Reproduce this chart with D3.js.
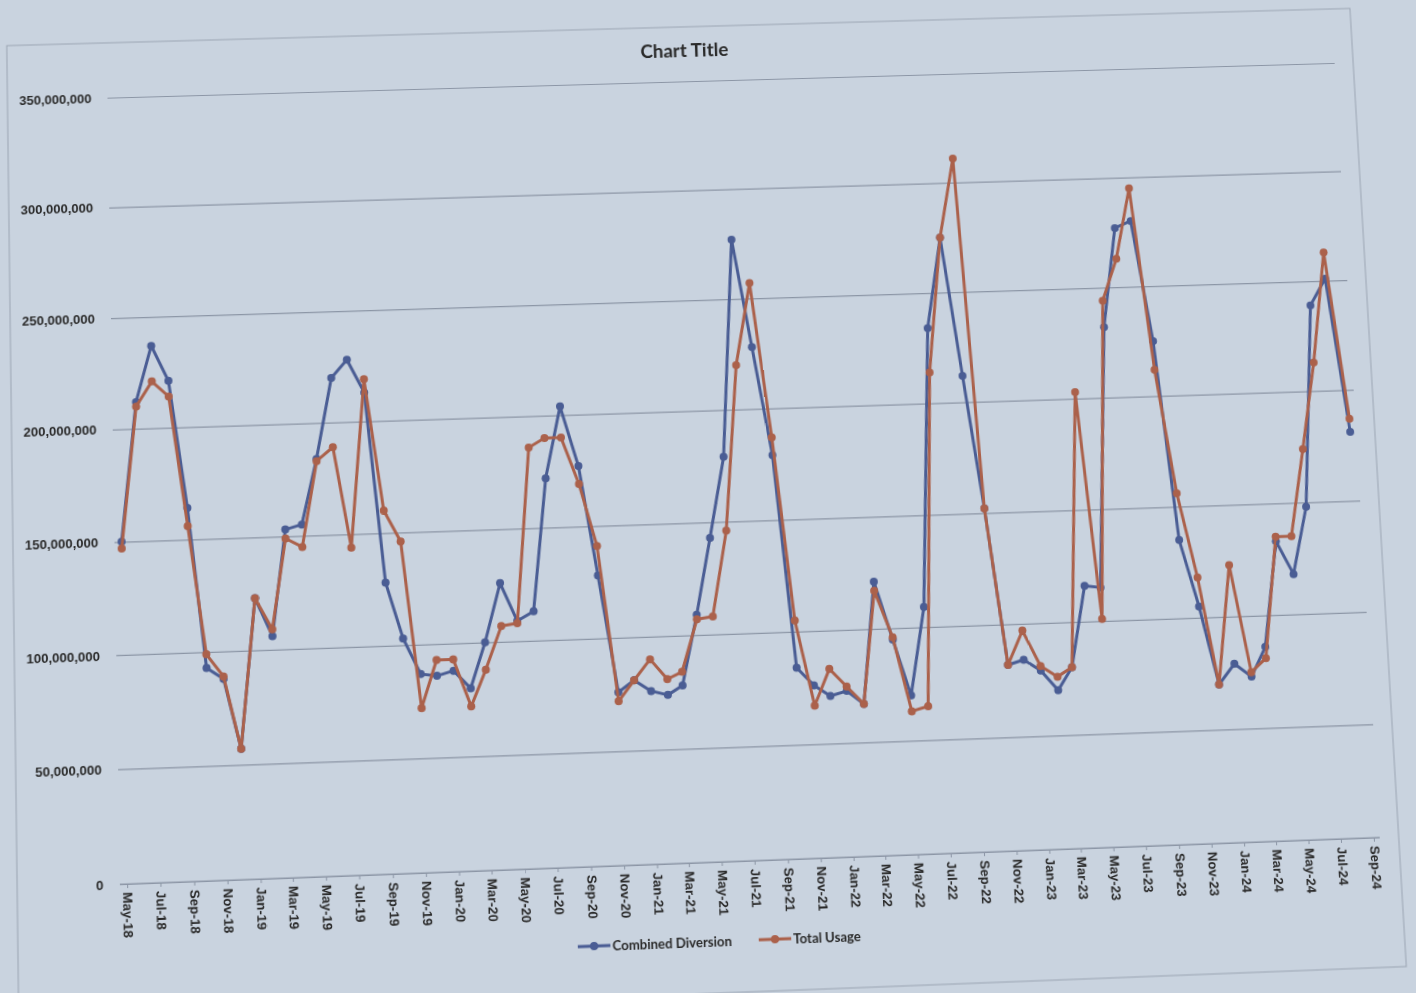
<!DOCTYPE html>
<html>
<head>
<meta charset="utf-8">
<title>Chart Title</title>
<script src="https://cdn.jsdelivr.net/npm/d3@7"></script>
<style>
	html, body { margin: 0; padding: 0; background: #c9d3df; overflow: hidden; }
	svg { display: block; font-family: Lato, "Open Sans", sans-serif; transform-origin: 0 0; }
</style>
</head>
<body>
<div id="chart"></div>
<script>
// monthly readings, May-18 .. Sep-24
var months = [
	"2018-05","2018-06","2018-07","2018-08","2018-09","2018-10","2018-11","2018-12",
	"2019-01","2019-02","2019-03","2019-04","2019-05","2019-06","2019-07","2019-08","2019-09","2019-10","2019-11","2019-12",
	"2020-01","2020-02","2020-03","2020-04","2020-05","2020-06","2020-07","2020-08","2020-09","2020-10","2020-11","2020-12",
	"2021-01","2021-02","2021-03","2021-04","2021-05","2021-06","2021-07","2021-08","2021-09","2021-10","2021-11","2021-12",
	"2022-01","2022-02","2022-03","2022-04","2022-05","2022-06","2022-07","2022-08","2022-09","2022-10","2022-11","2022-12",
	"2023-01","2023-02","2023-03","2023-04","2023-05","2023-06","2023-07","2023-08","2023-09","2023-10","2023-11","2023-12",
	"2024-01","2024-02","2024-03","2024-04","2024-05","2024-06","2024-07","2024-08","2024-09"
];

// values in millions
var combinedDiversion = [
	150, 212, 237, 221, 164, 93, 88, 57,
	123, 106, 153, 155, 184, 220, 228, 213, 128, 103, 87, 86,
	88, 80, 100, 126, 109, 113, 172, 204, 177, 128, 76, 81,
	76, 74, 78, 109, 143, 179, 277, 228, 179, 84, 76, 71,
	73, 67, 121, 95, 70, 109, 234, 275, 212, 152, 82, 84,
	79, 70, 80, 116, 115, 232, 277, 280, 225, 135, 105, 70,
	79, 73, 86, 133, 118, 148, 239, 251, 181
];

var totalUsage = [
	147, 210, 221, 214, 156, 99, 89, 57,
	123, 109, 149, 145, 183, 189, 144, 219, 160, 146, 72, 93,
	93, 72, 88, 107, 108, 186, 190, 190, 169, 141, 72, 81,
	90, 81, 84, 107, 108, 146, 220, 257, 187, 105, 67, 83,
	75, 67, 117, 96, 63, 65, 214, 275, 311, 152, 82, 97,
	81, 76, 80, 203, 101, 244, 263, 295, 212, 156, 118, 70,
	123, 75, 81, 135, 135, 174, 213, 263, 187
];

var yTicks = [0, 50, 100, 150, 200, 250, 300, 350];
var seriesNames = ["Combined Diversion", "Total Usage"];
var seriesColors = ["#4a5d94", "#ab614b"];
var chartTitle = "Chart Title";

var width = 1416, height = 993;
var plotLeft = 113, plotRight = 1358;
var parseMonth = d3.timeParse("%Y-%m");
var dates = months.map(parseMonth);

var svg = d3.select("#chart").append("svg")
	.attr("width", width)
	.attr("height", height);

var g = svg.append("g");

// chart area border
g.append("rect")
	.attr("x", 13).attr("y", 25)
	.attr("width", 1364).attr("height", 964)
	.attr("fill", "none")
	.attr("stroke", "#9ba5b3")
	.attr("stroke-width", 1);

var x = d3.scaleTime()
	.domain([dates[0], dates[dates.length - 1]])
	.range([120, 1352]);

var y = d3.scaleLinear()
	.domain([0, 350])
	.range([862, 81]);

// gridlines + y labels
var yAxis = d3.axisLeft(y)
	.tickValues(yTicks)
	.tickSize(-(plotRight - plotLeft))
	.tickPadding(16)
	.tickFormat(function(d) { return d3.format(",")(d * 1e6); });

g.append("g")
	.attr("class", "y axis")
	.attr("transform", "translate(" + plotLeft + ",0)")
	.call(yAxis)
	.call(function(a) {
		a.select(".domain").remove();
		a.selectAll("line").attr("stroke", "#8c96a6").attr("stroke-width", 1.2);
		a.selectAll("text")
			.attr("fill", "#2a2a2a")
			.style("font-size", "13px")
			.style("font-weight", "bold");
	});

// x axis, label every second month
var xAxis = d3.axisBottom(x)
	.tickValues(dates.filter(function(d, i) { return i % 2 == 0; }))
	.tickSize(4)
	.tickFormat(d3.timeFormat("%b-%y"));

g.append("g")
	.attr("class", "x axis")
	.attr("transform", "translate(0,862)")
	.call(xAxis)
	.call(function(a) {
		a.select(".domain")
			.attr("d", "M" + plotLeft + ",0H" + plotRight)
			.attr("stroke", "#8c96a6").attr("stroke-width", 1.2);
		a.selectAll("line").attr("stroke", "#8c96a6");
		a.selectAll("text")
			.attr("y", 0)
			.attr("x", 8)
			.attr("dy", ".35em")
			.attr("transform", "rotate(90)")
			.style("text-anchor", "start")
			.attr("fill", "#2a2a2a")
			.style("font-size", "13px")
			.style("font-weight", "bold");
	});

// series lines + markers, Total Usage drawn on top
var allSeries = [combinedDiversion, totalUsage];

var line = d3.line()
	.x(function(d, i) { return x(dates[i]); })
	.y(function(d) { return y(d); });

allSeries.forEach(function(values, s) {
	var sg = g.append("g").attr("class", "series");
	sg.append("path")
		.datum(values)
		.attr("fill", "none")
		.attr("stroke", seriesColors[s])
		.attr("stroke-width", 3)
		.attr("stroke-linejoin", "round")
		.attr("d", line);
	sg.selectAll("circle").data(values).enter().append("circle")
		.attr("cx", function(d, i) { return x(dates[i]); })
		.attr("cy", function(d) { return y(d); })
		.attr("r", 4)
		.attr("fill", seriesColors[s]);
});

// title
g.append("text")
	.attr("x", 695)
	.attr("y", 56)
	.attr("text-anchor", "middle")
	.attr("fill", "#2a2a2a")
	.style("font-size", "19px")
	.style("font-weight", "bold")
	.text(chartTitle);

// legend
var legendX = [559, 737];
var legend = g.append("g").attr("class", "legend");
seriesNames.forEach(function(name, s) {
	var lx = legendX[s];
	legend.append("line")
		.attr("x1", lx).attr("x2", lx + 32)
		.attr("y1", 939).attr("y2", 939)
		.attr("stroke", seriesColors[s])
		.attr("stroke-width", 3);
	legend.append("circle")
		.attr("cx", lx + 16).attr("cy", 939)
		.attr("r", 4)
		.attr("fill", seriesColors[s]);
	legend.append("text")
		.attr("x", lx + 34)
		.attr("y", 939)
		.attr("dy", ".35em")
		.attr("fill", "#2a2a2a")
		.style("font-size", "13px")
		.style("font-weight", "bold")
		.text(name);
});

// the reference is a photo of a printout: warp the flat chart onto the
// photographed page using the plot corners (May-18 / Sep-24, 350M / 0)
function homography(src, dst) {
	var A = [], b = [], n = 8, i, r, c, k;
	for (i = 0; i < 4; i++) {
		var sx = src[i][0], sy = src[i][1], X = dst[i][0], Y = dst[i][1];
		A.push([sx, sy, 1, 0, 0, 0, -sx * X, -sy * X]); b.push(X);
		A.push([0, 0, 0, sx, sy, 1, -sx * Y, -sy * Y]); b.push(Y);
	}
	for (c = 0; c < n; c++) {
		var p = c;
		for (r = c + 1; r < n; r++) if (Math.abs(A[r][c]) > Math.abs(A[p][c])) p = r;
		var t = A[c]; A[c] = A[p]; A[p] = t;
		t = b[c]; b[c] = b[p]; b[p] = t;
		for (r = c + 1; r < n; r++) {
			var f = A[r][c] / A[c][c];
			for (k = c; k < n; k++) A[r][k] -= f * A[c][k];
			b[r] -= f * b[c];
		}
	}
	var h = [];
	for (r = n - 1; r >= 0; r--) {
		var s2 = b[r];
		for (k = r + 1; k < n; k++) s2 -= A[r][k] * h[k];
		h[r] = s2 / A[r][r];
	}
	return h;
}

var flatCorners = [[120, 81], [1352, 81], [1352, 862], [120, 862]];
var pageCorners = [[114.5, 97.5], [1328.7, 63.1], [1373.7, 837.6], [127.1, 884]];
var h = homography(flatCorners, pageCorners);

svg.style("transform", "matrix3d(" + [h[0], h[3], 0, h[6], h[1], h[4], 0, h[7], 0, 0, 1, 0, h[2], h[5], 0, 1].join(",") + ")");
</script>
</body>
</html>
